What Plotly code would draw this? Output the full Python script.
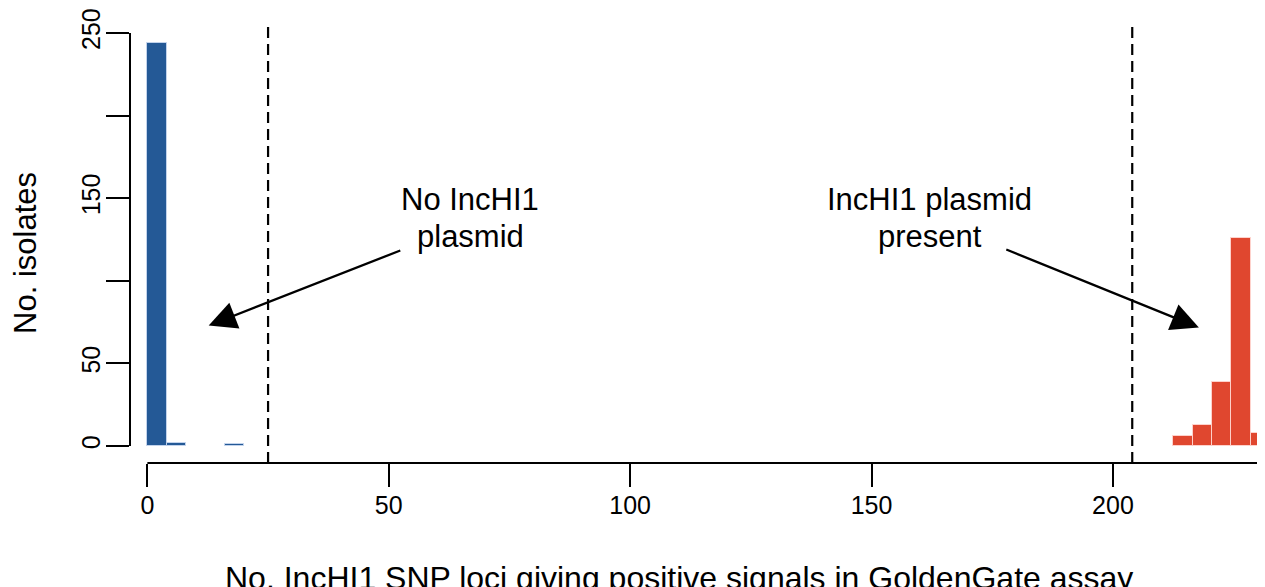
import plotly.graph_objects as go

# ---- data ----
blue_bin_centers = [2, 6, 18]
blue_counts = [244, 2, 1]
red_bin_centers = [214.5, 218.5, 222.5, 226.5, 230.5]
red_counts = [6, 13, 39, 126, 8]
bin_width = 4
threshold_low = 25
threshold_high = 204
x_tick_vals = [0, 50, 100, 150, 200]
y_tick_vals = [0, 50, 100, 150, 200, 250]
y_tick_text = ["0", "50", "", "150", "", "250"]

FONT = "Liberation Sans, Arial, Helvetica, sans-serif"
BLUE = "#245996"
RED = "#e0472f"

XR = [-3.6, 231.5]
YR = [-10.24, 262.65]

fig = go.Figure()
fig.add_trace(go.Bar(x=blue_bin_centers, y=blue_counts, width=[bin_width] * len(blue_counts),
                     marker=dict(color=BLUE, line=dict(color="rgba(200,215,240,0.9)", width=1)),
                     showlegend=False, hoverinfo="x+y"))
fig.add_trace(go.Bar(x=red_bin_centers, y=red_counts, width=[bin_width] * len(red_counts),
                     marker=dict(color=RED, line=dict(color="rgba(255,215,210,0.9)", width=1)),
                     showlegend=False, hoverinfo="x+y"))

# dashed threshold lines
for xv in [threshold_low, threshold_high]:
    fig.add_shape(type="line", x0=xv, x1=xv, y0=YR[0], y1=255.4, xref="x", yref="y",
                  line=dict(color="black", width=2.2, dash="11px,6px"))

# axis lines (R style, detached)
fig.add_shape(type="line", x0=0, x1=XR[1], y0=0, y1=0, xref="x", yref="paper",
              line=dict(color="black", width=2))
fig.add_shape(type="line", x0=0, x1=0, y0=0, y1=250, xref="paper", yref="y",
              line=dict(color="black", width=2))

ann_font = dict(family=FONT, size=31, color="black")
# text annotations
fig.add_annotation(x=66.9, y=149.4, text="No IncHI1", showarrow=False, font=ann_font,
                   xanchor="center", yanchor="middle")
fig.add_annotation(x=66.9, y=127.1, text="plasmid", showarrow=False, font=ann_font,
                   xanchor="center", yanchor="middle")
fig.add_annotation(x=162.1, y=149.4, text="IncHI1 plasmid", showarrow=False, font=ann_font,
                   xanchor="center", yanchor="middle")
fig.add_annotation(x=162.1, y=127.1, text="present", showarrow=False, font=ann_font,
                   xanchor="center", yanchor="middle")

# arrows
fig.add_annotation(x=12.7, y=72.9, ax=52.7, ay=118.7, xref="x", yref="y", axref="x", ayref="y",
                   text="", showarrow=True, arrowhead=2, arrowsize=2.4, arrowwidth=2.3,
                   arrowcolor="black")
fig.add_annotation(x=217.8, y=71.7, ax=177.6, ay=119.3, xref="x", yref="y", axref="x", ayref="y",
                   text="", showarrow=True, arrowhead=2, arrowsize=2.4, arrowwidth=2.3,
                   arrowcolor="black")

# axis titles
fig.add_annotation(x=110.1, y=-0.2539, xref="x", yref="paper",
                   text="No. IncHI1 SNP loci giving positive signals in GoldenGate assay",
                   showarrow=False, font=dict(family=FONT, size=32, color="black"),
                   xanchor="center", yanchor="middle")
fig.add_annotation(x=-0.0916, y=116.9, xref="paper", yref="y", text="No. isolates",
                   textangle=-90, showarrow=False, font=ann_font, xanchor="center", yanchor="middle")

# page body has an 8px margin, so the figure is 8px smaller and margins are shifted
fig.update_layout(
    width=1257, height=579,
    margin=dict(l=122, r=0, t=2, b=124),
    paper_bgcolor="white", plot_bgcolor="white",
    bargap=0,
    font=dict(family=FONT, color="black"),
    xaxis=dict(range=XR, tickvals=x_tick_vals, ticks="outside", ticklen=23, tickwidth=1.5,
               tickcolor="black", showgrid=False, zeroline=False, showline=False,
               ticklabelstandoff=-3, ticklabeloverflow="allow",
               tickfont=dict(family=FONT, size=25, color="black")),
    yaxis=dict(range=YR, tickvals=y_tick_vals, ticktext=y_tick_text, ticks="outside",
               ticklen=23, tickwidth=1.5, tickcolor="black", tickangle=-90,
               showgrid=False, zeroline=False, showline=False,
               ticklabelstandoff=-4, ticklabeloverflow="allow",
               tickfont=dict(family=FONT, size=25, color="black")),
)

fig.write_html("out.html")
